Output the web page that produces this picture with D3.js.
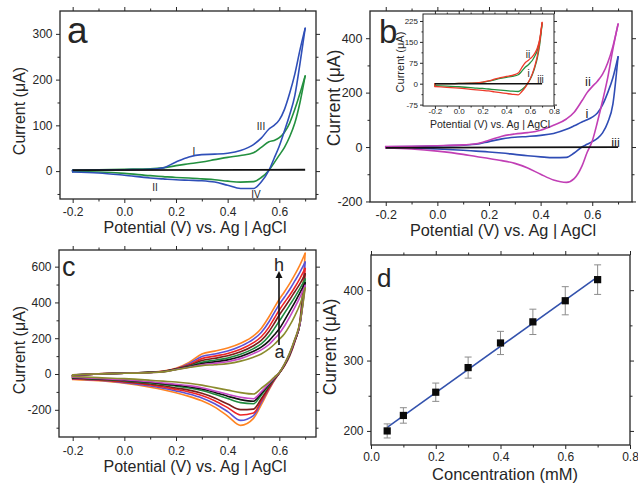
<!DOCTYPE html>
<html>
<head>
<meta charset="utf-8">
<script src="https://cdn.jsdelivr.net/npm/d3@7"></script>
<style>
  body { margin: 0; background: #fff; }
  svg { display: block; }
</style>
</head>
<body>
<svg id="fig" width="638" height="486"></svg>
<script>
// ---------- shared potential grid (V vs. Ag|AgCl) ----------
const potential = [-0.2, -0.1, 0.0, 0.1, 0.15, 0.2, 0.25, 0.3, 0.35, 0.4, 0.45, 0.5, 0.53, 0.56, 0.58, 0.6, 0.62, 0.64, 0.66, 0.68, 0.7];
const potentialEnds = [-0.2, 0.7];

// ---------- panel a (µA) ----------
const aBlueFwd  = [2, 2.5, 3, 4, 7, 20, 31, 36, 37, 39, 45, 58, 72, 92, 100, 112, 135, 170, 212, 265, 312];
const aBlueRev  = [-2, -4, -9, -15, -17, -19, -20, -21, -24, -31, -38, -38, -24, 2, 28, 55, 88, 123, 165, 235, 312];
const aGreenFwd = [2, 3, 4, 5, 7, 12, 16, 20, 25, 30, 34, 40, 52, 64, 67, 73, 85, 105, 135, 170, 208];
const aGreenRev = [-1, -2, -5, -10, -12, -14, -15, -17, -19, -22, -24, -23, -14, 2, 18, 35, 52, 75, 105, 150, 208];
const aBlank    = [2, 3];

// ---------- panel b (µA) ----------
const bMagentaFwd = [2, 3, 5, 8, 12, 25, 40, 48, 53, 62, 80, 103, 128, 170, 200, 222, 242, 268, 310, 370, 452];
const bMagentaRev = [-3, -7, -15, -27, -35, -42, -50, -60, -77, -100, -121, -130, -116, -70, -20, 22, 92, 170, 255, 360, 452];
const bBlueFwd    = [1, 2, 4, 7, 10, 20, 30, 36, 39, 43, 50, 65, 78, 92, 100, 110, 125, 155, 200, 255, 332];
const bBlueRev    = [-1, -3, -7, -12, -15, -18, -22, -27, -32, -36, -39, -38, -22, 0, 10, 20, 32, 52, 90, 158, 332];
const bBlank      = [-3, 0];

// inset of panel b (µA)
const insetRedFwd   = [0, 0, 1, 2, 3, 6, 10, 16, 22, 26, 30, 38, 58, 76, 82, 90, 98, 110, 128, 160, 220];
const insetRedRev   = [-10, -13, -16, -20, -22, -24, -26, -29, -32, -35, -38, -40, -28, -12, 2, 18, 38, 65, 100, 150, 220];
const insetGreenFwd = [0, 0, 1, 2, 3, 5, 9, 14, 19, 23, 26, 32, 45, 60, 66, 75, 85, 100, 120, 155, 215];
const insetGreenRev = [-7, -9, -11, -14, -16, -17, -19, -21, -23, -25, -27, -28, -21, -10, 2, 16, 35, 60, 92, 140, 215];
const insetBlank    = [0, 0];

// ---------- panel c: eight concentrations, a (lowest) to h (highest) ----------
const cFwdA = [-4, 1, 4, 8, 12, 24, 36, 47, 52, 58, 72, 94, 112, 140, 165, 194, 225, 270, 325, 390, 480];
const cFwdB = [-5, 1, 4, 8, 13, 25, 38, 52, 60, 69, 86, 114, 135, 165, 195, 227, 268, 318, 372, 430, 495];
const cFwdC = [-6, 1, 4, 9, 13, 26, 40, 58, 68, 79, 98, 127, 150, 185, 218, 253, 300, 350, 400, 455, 510];
const cFwdD = [-6, 1, 5, 9, 14, 27, 43, 66, 77, 90, 110, 142, 168, 212, 252, 296, 340, 385, 430, 478, 530];
const cFwdE = [-7, 1, 5, 9, 14, 28, 47, 75, 88, 102, 124, 158, 188, 238, 282, 330, 372, 415, 460, 505, 560];
const cFwdF = [-8, 1, 5, 10, 15, 29, 52, 86, 100, 115, 138, 175, 208, 262, 310, 358, 400, 440, 485, 535, 590];
const cFwdG = [-8, 1, 5, 10, 15, 30, 58, 98, 112, 128, 155, 195, 232, 292, 342, 389, 430, 472, 520, 570, 625];
const cFwdH = [-9, 1, 5, 10, 16, 32, 65, 112, 128, 145, 172, 213, 255, 320, 370, 418, 460, 505, 555, 610, 675];

const cRevA = [-14, -20, -26, -35, -40, -45, -52, -62, -76, -90, -104, -112, -80, -45, -18, 8, 56, 118, 195, 290, 480];
const cRevB = [-18, -25, -32, -43, -50, -57, -65, -77, -95, -113, -130, -138, -100, -53, -22, 8, 55, 115, 192, 280, 495];
const cRevC = [-20, -27, -34, -46, -54, -62, -71, -84, -103, -124, -143, -152, -108, -57, -24, 7, 53, 112, 190, 280, 510];
const cRevD = [-22, -29, -37, -50, -58, -68, -78, -92, -113, -137, -160, -166, -118, -62, -26, 7, 52, 110, 188, 282, 530];
const cRevE = [-24, -31, -41, -56, -66, -78, -90, -108, -134, -168, -199, -196, -138, -72, -30, 6, 50, 108, 186, 285, 560];
const cRevF = [-26, -33, -44, -61, -73, -86, -100, -120, -149, -188, -229, -218, -150, -78, -33, 6, 49, 106, 184, 290, 590];
const cRevG = [-28, -35, -48, -67, -80, -95, -112, -134, -166, -210, -259, -232, -160, -83, -35, 5, 47, 103, 182, 295, 625];
const cRevH = [-30, -38, -52, -74, -88, -105, -125, -150, -185, -235, -287, -248, -173, -89, -38, 5, 45, 100, 180, 300, 675];

const cColors = ["#8b8b2e", "#c548c5", "#111111", "#1f8a3e", "#7b1d1d", "#ee2424", "#5b52d6", "#ff8422"];

// ---------- panel d ----------
const concentration = [0.05, 0.1, 0.2, 0.3, 0.4, 0.5, 0.6, 0.7];   // mM
const peakCurrent   = [200, 222, 255, 290, 325, 355, 385, 415];      // µA
const currentError  = [10, 11, 13, 15, 16.5, 18, 20, 21];           // µA

// ---------- tick values ----------
const cvTicksX      = [-0.2, 0.0, 0.2, 0.4, 0.6];
const cvMinorX      = [-0.1, 0.1, 0.3, 0.5, 0.7];
const aTicksY       = [0, 100, 200, 300];
const aMinorY       = [-50, 50, 150, 250];
const bTicksY       = [-200, 0, 200, 400];
const bMinorY       = [-100, 100, 300];
const cTicksY       = [-200, 0, 200, 400, 600];
const cMinorY       = [-300, -100, 100, 300, 500];
const insetTicksX   = [-0.2, 0.0, 0.2, 0.4, 0.6, 0.8];
const insetMinorX   = [-0.1, 0.1, 0.3, 0.5, 0.7];
const insetTicksY   = [-75, 0, 75, 150, 225];
const insetMinorY   = [-37.5, 37.5, 112.5, 187.5];
const dTicksX       = [0.0, 0.2, 0.4, 0.6, 0.8];
const dMinorX       = [0.1, 0.3, 0.5, 0.7];
const dTicksY       = [200, 300, 400];
const dMinorY       = [250, 350];

// ---------- drawing helpers ----------
const svg = d3.select("#fig");
const FONT = "'Liberation Sans', Arial, Helvetica, sans-serif";
const INK = "#262626";
const fmt1 = v => v.toFixed(1);
const fmt0 = v => String(v);

function styleAxis(sel, size) {
  sel.select(".domain").remove();
  sel.selectAll("line").attr("stroke", INK).attr("stroke-width", 1);
  sel.selectAll("text").attr("fill", INK).style("font-family", FONT).style("font-size", size + "px");
}

function makePanel(p) {
  const x = d3.scaleLinear().domain(p.xDomain).range([p.box.left, p.box.right]);
  const y = d3.scaleLinear().domain(p.yDomain).range([p.box.bottom, p.box.top]);
  const g = svg.append("g");
  const maj = p.majorLen, min = p.minorLen;
  if (p.background) {
    g.append("rect").attr("x", p.box.left).attr("y", p.box.top)
      .attr("width", p.box.right - p.box.left).attr("height", p.box.bottom - p.box.top)
      .attr("fill", "#fff");
  }
  const at = (ty) => g.append("g").attr("transform", ty);
  at(`translate(0,${p.box.bottom})`).call(d3.axisBottom(x).tickValues(p.xMinor).tickSize(min).tickFormat("")).call(styleAxis, p.tickFont);
  at(`translate(0,${p.box.bottom})`).call(d3.axisBottom(x).tickValues(p.xTicks).tickSize(maj).tickPadding(p.xPad).tickFormat(p.xFormat)).call(styleAxis, p.tickFont);
  at(`translate(0,${p.box.top})`).call(d3.axisTop(x).tickValues(p.xMinor).tickSize(min).tickFormat("")).call(styleAxis, p.tickFont);
  at(`translate(0,${p.box.top})`).call(d3.axisTop(x).tickValues(p.xTicks).tickSize(maj).tickFormat("")).call(styleAxis, p.tickFont);
  at(`translate(${p.box.left},0)`).call(d3.axisLeft(y).tickValues(p.yMinor).tickSize(min).tickFormat("")).call(styleAxis, p.tickFont);
  at(`translate(${p.box.left},0)`).call(d3.axisLeft(y).tickValues(p.yTicks).tickSize(maj).tickPadding(p.yPad).tickFormat(p.yFormat)).call(styleAxis, p.tickFont);
  at(`translate(${p.box.right},0)`).call(d3.axisRight(y).tickValues(p.yMinor).tickSize(min).tickFormat("")).call(styleAxis, p.tickFont);
  at(`translate(${p.box.right},0)`).call(d3.axisRight(y).tickValues(p.yTicks).tickSize(maj).tickFormat("")).call(styleAxis, p.tickFont);
  g.append("rect").attr("x", p.box.left).attr("y", p.box.top)
    .attr("width", p.box.right - p.box.left).attr("height", p.box.bottom - p.box.top)
    .attr("fill", "none").attr("stroke", INK).attr("stroke-width", p.frameWidth);
  return { g, x, y };
}

function label(g, txt, x, y, size, opts = {}) {
  const t = g.append("text").attr("x", x).attr("y", y).text(txt)
    .attr("fill", opts.fill || INK).style("font-family", FONT).style("font-size", size + "px")
    .attr("text-anchor", opts.anchor || "start");
  if (opts.rotate) t.attr("transform", `rotate(-90,${x},${y})`);
  return t;
}

function drawLoop(P, pot, fwd, rev, color, width) {
  const line = d3.line().x(d => P.x(d[0])).y(d => P.y(d[1])).curve(d3.curveMonotoneX);
  const style = s => s.attr("fill", "none").attr("stroke", color).attr("stroke-width", width)
    .attr("stroke-linejoin", "round").attr("stroke-linecap", "round");
  P.g.append("path").attr("d", line(pot.map((v, i) => [v, rev[i]]))).call(style);
  P.g.append("path").attr("d", line(pot.map((v, i) => [v, fwd[i]]))).call(style);
  P.g.append("path").attr("d", d3.line()([[P.x(pot[0]), P.y(rev[0])], [P.x(pot[0]), P.y(fwd[0])]])).call(style);
}

function drawStraight(P, pot, vals, color, width) {
  P.g.append("path")
    .attr("d", d3.line().x(d => P.x(d[0])).y(d => P.y(d[1]))(pot.map((v, i) => [v, vals[i]])))
    .attr("fill", "none").attr("stroke", color).attr("stroke-width", width);
}

// ================= panel a =================
const A = makePanel({
  box: { left: 60, right: 316, top: 11, bottom: 199 },
  xDomain: [-0.249, 0.742], yDomain: [-61, 350],
  xTicks: cvTicksX, xMinor: cvMinorX, yTicks: aTicksY, yMinor: aMinorY,
  xFormat: fmt1, yFormat: fmt0, tickFont: 12, xPad: 4, yPad: 3.5,
  majorLen: 4, minorLen: 2.5, frameWidth: 1.3
});
drawLoop(A, potential, aGreenFwd, aGreenRev, "#23903f", 1.6);
drawLoop(A, potential, aBlueFwd, aBlueRev, "#2f4fb8", 1.6);
drawStraight(A, potentialEnds, aBlank, "#111", 1.8);
label(A.g, "a", 67, 43, 37);
label(A.g, "I", 194, 155, 10, { anchor: "middle" });
label(A.g, "II", 155, 191, 10, { anchor: "middle" });
label(A.g, "III", 261, 130, 10, { anchor: "middle" });
label(A.g, "IV", 256, 197.5, 10, { anchor: "middle" });
label(A.g, "Potential (V) vs. Ag | AgCl", 195, 233, 16, { anchor: "middle" });
label(A.g, "Current (μA)", 25, 111, 16, { anchor: "middle", rotate: true });

// ================= panel b =================
const B = makePanel({
  box: { left: 370, right: 632, top: 11, bottom: 202 },
  xDomain: [-0.261, 0.754], yDomain: [-202, 500],
  xTicks: cvTicksX, xMinor: cvMinorX, yTicks: bTicksY, yMinor: bMinorY,
  xFormat: fmt1, yFormat: fmt0, tickFont: 12.5, xPad: 4, yPad: 3.5,
  majorLen: 4, minorLen: 2.5, frameWidth: 1.3
});
drawLoop(B, potential, bBlueFwd, bBlueRev, "#2f4cb5", 1.6);
drawLoop(B, potential, bMagentaFwd, bMagentaRev, "#c13fb5", 1.6);
drawStraight(B, potentialEnds, bBlank, "#111", 1.8);
label(B.g, "b", 379, 43, 33);
label(B.g, "ii", 588, 86, 13, { anchor: "middle" });
label(B.g, "i", 587, 117.5, 13, { anchor: "middle" });
label(B.g, "iii", 615.5, 147, 13, { anchor: "middle" });
label(B.g, "Potential (V) vs. Ag | AgCl", 503, 236, 16.3, { anchor: "middle" });
label(B.g, "Current (μA)", 340, 98, 17.5, { anchor: "middle", rotate: true });

// inset
const I = makePanel({
  box: { left: 423, right: 554, top: 14, bottom: 106 },
  xDomain: [-0.3, 0.8], yDomain: [-80, 250],
  xTicks: insetTicksX, xMinor: insetMinorX, yTicks: insetTicksY, yMinor: insetMinorY,
  xFormat: fmt1, yFormat: fmt0, tickFont: 8, xPad: -1, yPad: 2,
  majorLen: 3, minorLen: 1.5, frameWidth: 1, background: true
});
drawLoop(I, potential, insetGreenFwd, insetGreenRev, "#23903f", 1.3);
drawLoop(I, potential, insetRedFwd, insetRedRev, "#ee3a2a", 1.3);
drawStraight(I, potentialEnds, insetBlank, "#111", 1.5);
label(I.g, "ii", 528, 58, 10, { anchor: "middle" });
label(I.g, "i", 528.5, 77, 10, { anchor: "middle" });
label(I.g, "iii", 540.5, 83, 10, { anchor: "middle" });
label(I.g, "Potential (V) vs. Ag | AgCl", 490, 127.5, 10.5, { anchor: "middle" });
label(I.g, "Current (μA)", 404, 62, 11, { anchor: "middle", rotate: true });

// ================= panel c =================
const C = makePanel({
  box: { left: 59, right: 316, top: 250, bottom: 437 },
  xDomain: [-0.253, 0.742], yDomain: [-352, 693],
  xTicks: cvTicksX, xMinor: cvMinorX, yTicks: cTicksY, yMinor: cMinorY,
  xFormat: fmt1, yFormat: fmt0, tickFont: 12, xPad: 5, yPad: 3.5,
  majorLen: 4, minorLen: 2.5, frameWidth: 1.3
});
const cFwd = [cFwdA, cFwdB, cFwdC, cFwdD, cFwdE, cFwdF, cFwdG, cFwdH];
const cRev = [cRevA, cRevB, cRevC, cRevD, cRevE, cRevF, cRevG, cRevH];
for (let k = cFwd.length - 1; k >= 0; k--) {
  drawLoop(C, potential, cFwd[k], cRev[k], cColors[k], 1.6);
}
label(C.g, "c", 62, 276, 27);
// arrow from curve a up to curve h
C.g.append("line").attr("x1", 279).attr("y1", 345).attr("x2", 279).attr("y2", 276)
  .attr("stroke", "#111").attr("stroke-width", 1.6);
C.g.append("path").attr("d", "M279,271 L275.5,278 L282.5,278 Z").attr("fill", "#111");
label(C.g, "h", 279, 271, 18, { anchor: "middle" });
label(C.g, "a", 279.5, 358, 18, { anchor: "middle" });
label(C.g, "Potential (V) vs. Ag | AgCl", 195, 472, 16, { anchor: "middle" });
label(C.g, "Current (μA)", 25, 350, 16, { anchor: "middle", rotate: true });

// ================= panel d =================
const D = makePanel({
  box: { left: 371, right: 630, top: 255, bottom: 445 },
  xDomain: [0, 0.8], yDomain: [180, 450],
  xTicks: dTicksX, xMinor: dMinorX, yTicks: dTicksY, yMinor: dMinorY,
  xFormat: fmt1, yFormat: fmt0, tickFont: 12, xPad: 3.5, yPad: 3.5,
  majorLen: 4, minorLen: 2.5, frameWidth: 1.3
});
// least-squares calibration line
const mx = d3.mean(concentration), my = d3.mean(peakCurrent);
const slope = d3.sum(concentration, (c, i) => (c - mx) * (peakCurrent[i] - my)) /
              d3.sum(concentration, c => (c - mx) ** 2);
const intercept = my - slope * mx;
const fitEnds = d3.extent(concentration);
D.g.append("path")
  .attr("d", d3.line().x(d => D.x(d)).y(d => D.y(intercept + slope * d))(fitEnds))
  .attr("stroke", "#3352ad").attr("stroke-width", 1.6).attr("fill", "none");
// error bars
const eb = D.g.append("g").attr("stroke", "#8c8c8c").attr("stroke-width", 1);
concentration.forEach((c, i) => {
  const cx = D.x(c), y1 = D.y(peakCurrent[i] - currentError[i]), y2 = D.y(peakCurrent[i] + currentError[i]);
  eb.append("line").attr("x1", cx).attr("x2", cx).attr("y1", y1).attr("y2", y2);
  eb.append("line").attr("x1", cx - 3.5).attr("x2", cx + 3.5).attr("y1", y1).attr("y2", y1);
  eb.append("line").attr("x1", cx - 3.5).attr("x2", cx + 3.5).attr("y1", y2).attr("y2", y2);
});
D.g.selectAll("rect.pt").data(concentration).join("rect").attr("class", "pt")
  .attr("x", d => D.x(d) - 3.6).attr("y", (d, i) => D.y(peakCurrent[i]) - 3.6)
  .attr("width", 7.2).attr("height", 7.2).attr("fill", "#0a0a0a");
label(D.g, "d", 377, 287, 26);
label(D.g, "Concentration (mM)", 505, 480, 16.5, { anchor: "middle" });
label(D.g, "Current (μA)", 336, 347, 17.5, { anchor: "middle", rotate: true });
</script>
</body>
</html>
